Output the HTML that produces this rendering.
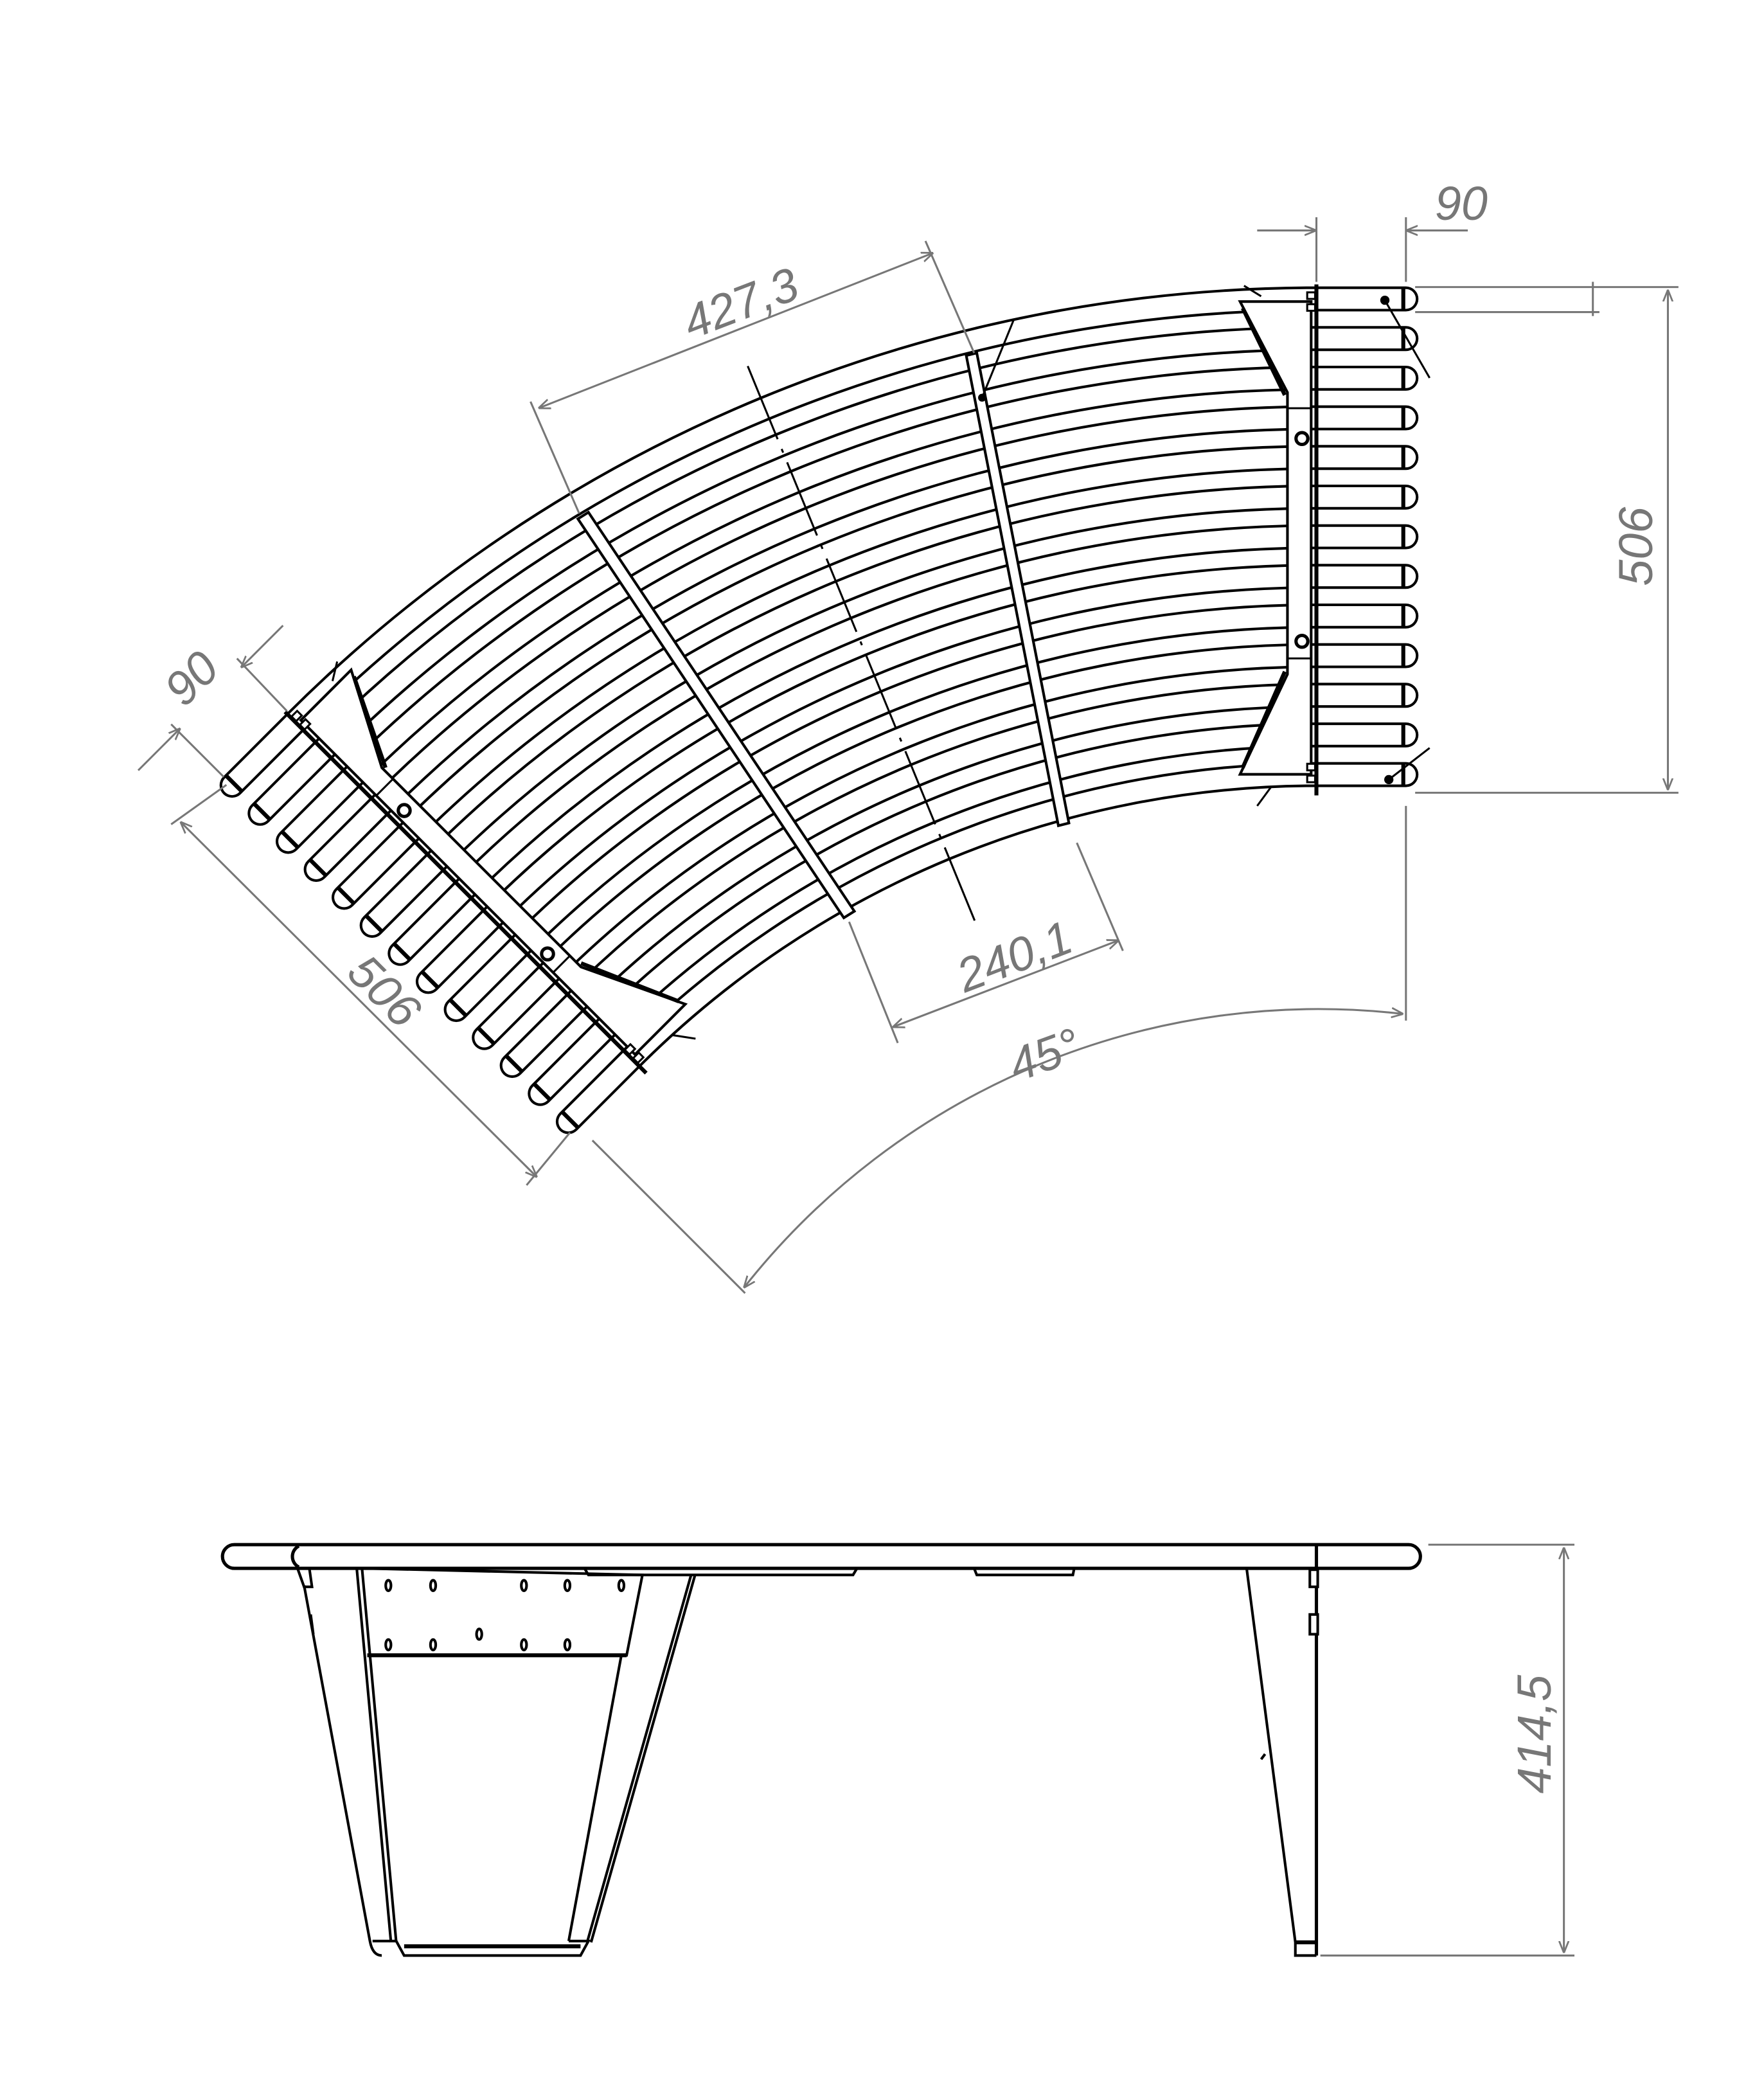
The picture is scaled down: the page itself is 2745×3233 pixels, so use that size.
<!DOCTYPE html>
<html><head><meta charset="utf-8"><style>
html,body{margin:0;padding:0;background:#fff;}
svg{display:block;}
.d{stroke:#777;stroke-width:1.5;fill:none}
.t{font-family:"Liberation Sans",sans-serif;font-style:italic;font-size:36px;fill:#777}
</style></head><body>
<svg width="2745" height="3233" viewBox="0 0 1340 1578" preserveAspectRatio="none" xmlns="http://www.w3.org/2000/svg" xmlns:xlink="http://www.w3.org/1999/xlink">
<defs>
<marker id="a" viewBox="0 0 10 10" refX="10" refY="5" markerWidth="9" markerHeight="9" markerUnits="userSpaceOnUse" orient="auto-start-reverse"><path d="M0,1 L10,5 L0,9" fill="none" stroke="#777" stroke-width="1.5"/></marker>
<g id="slatpaths">
<path d="M1068,227 L1000,227 A1097,1097 0 0 0 224.3,548.3 L176.3,596.3"/>
<path d="M1068,257.1 L1000,257.1 A1066.9,1066.9 0 0 0 245.6,569.6 L197.6,617.6"/>
<path d="M1068,287.2 L1000,287.2 A1036.8,1036.8 0 0 0 266.9,590.9 L218.9,638.9"/>
<path d="M1068,317.3 L1000,317.3 A1006.7,1006.7 0 0 0 288.2,612.2 L240.2,660.2"/>
<path d="M1068,347.4 L1000,347.4 A976.6,976.6 0 0 0 309.4,633.4 L261.4,681.4"/>
<path d="M1068,377.5 L1000,377.5 A946.5,946.5 0 0 0 330.7,654.7 L282.7,702.7"/>
<path d="M1068,407.6 L1000,407.6 A916.4,916.4 0 0 0 352,676 L304,724"/>
<path d="M1068,437.7 L1000,437.7 A886.3,886.3 0 0 0 373.3,697.3 L325.3,745.3"/>
<path d="M1068,467.8 L1000,467.8 A856.2,856.2 0 0 0 394.6,718.6 L346.6,766.6"/>
<path d="M1068,497.9 L1000,497.9 A826.1,826.1 0 0 0 415.9,739.9 L367.9,787.9"/>
<path d="M1068,528 L1000,528 A796,796 0 0 0 437.1,761.1 L389.1,809.1"/>
<path d="M1068,558.1 L1000,558.1 A765.9,765.9 0 0 0 458.4,782.4 L410.4,830.4"/>
<path d="M1068,588.2 L1000,588.2 A735.8,735.8 0 0 0 479.7,803.7 L431.7,851.7"/>
</g>
<g id="frame">
 <polygon points="942,229 996,229 996,588 942,588 978,512 978,298" fill="#fff" stroke="#000" stroke-width="2"/>
 <line x1="944" y1="234" x2="976" y2="300" stroke="#000" stroke-width="3"/>
 <line x1="944" y1="583" x2="976" y2="510" stroke="#000" stroke-width="3"/>
 <line x1="978" y1="310" x2="996" y2="310" stroke="#000" stroke-width="1.5"/>
 <line x1="978" y1="500" x2="996" y2="500" stroke="#000" stroke-width="1.5"/>
 <circle cx="989" cy="333" r="4.5" fill="#fff" stroke="#000" stroke-width="2.5"/>
 <circle cx="989" cy="487" r="4.5" fill="#fff" stroke="#000" stroke-width="2.5"/>
 <rect x="993" y="222" width="6" height="5" fill="#fff" stroke="#000" stroke-width="1.5"/>
 <rect x="993" y="231" width="6" height="5" fill="#fff" stroke="#000" stroke-width="1.5"/>
 <rect x="993" y="580" width="6" height="5" fill="#fff" stroke="#000" stroke-width="1.5"/>
 <rect x="993" y="589" width="6" height="5" fill="#fff" stroke="#000" stroke-width="1.5"/>
 <line x1="1000" y1="216" x2="1000" y2="604" stroke="#000" stroke-width="3"/>
 <line x1="945" y1="217" x2="958" y2="225" stroke="#000" stroke-width="1.5"/>
 <line x1="955" y1="612" x2="966" y2="597" stroke="#000" stroke-width="1.5"/>
 <g stroke="#000" stroke-width="3">
  <line x1="1066" y1="218" x2="1066" y2="236"/>
  <line x1="1066" y1="248.1" x2="1066" y2="266.1"/>
  <line x1="1066" y1="278.2" x2="1066" y2="296.2"/>
  <line x1="1066" y1="308.3" x2="1066" y2="326.3"/>
  <line x1="1066" y1="338.4" x2="1066" y2="356.4"/>
  <line x1="1066" y1="368.5" x2="1066" y2="386.5"/>
  <line x1="1066" y1="398.6" x2="1066" y2="416.6"/>
  <line x1="1066" y1="428.7" x2="1066" y2="446.7"/>
  <line x1="1066" y1="458.8" x2="1066" y2="476.8"/>
  <line x1="1066" y1="488.9" x2="1066" y2="506.9"/>
  <line x1="1066" y1="519" x2="1066" y2="537"/>
  <line x1="1066" y1="549.1" x2="1066" y2="567.1"/>
  <line x1="1066" y1="579.2" x2="1066" y2="597.2"/>
 </g>
</g>
</defs>
<rect width="1340" height="1578" fill="#fff"/>

<!-- slats -->
<use xlink:href="#slatpaths" href="#slatpaths" fill="none" stroke="#000" stroke-width="19" stroke-linecap="round"/>
<use xlink:href="#slatpaths" href="#slatpaths" fill="none" stroke="#fff" stroke-width="15" stroke-linecap="round"/>

<use xlink:href="#frame" href="#frame"/>
<use xlink:href="#frame" href="#frame" transform="matrix(-0.70711,0.70711,0.70711,0.70711,770.9,-319.3)"/>

<!-- leaders right -->
<circle cx="1052" cy="228" r="3.5" fill="#000"/>
<line x1="1052" y1="228" x2="1086" y2="287" stroke="#000" stroke-width="1.5"/>
<circle cx="1055" cy="592" r="3.5" fill="#000"/>
<line x1="1055" y1="592" x2="1086" y2="568" stroke="#000" stroke-width="1.5"/>

<!-- cross bars -->
<polygon points="439,394 447,389 649,692 641,697" fill="#fff" stroke="#000" stroke-width="2"/>
<polygon points="734,270 742,268 812,625 804,627" fill="#fff" stroke="#000" stroke-width="2"/>
<circle cx="746" cy="302" r="3" fill="#000"/>
<line x1="746" y1="302" x2="770" y2="243" stroke="#000" stroke-width="1.5"/>

<!-- center dash-dot -->
<line x1="568" y1="278" x2="742" y2="703" stroke="#000" stroke-width="1.5" stroke-dasharray="60,8,3,8"/>

<!-- dims top view -->
<g class="d">
 <line x1="403" y1="305" x2="440" y2="390"/>
 <line x1="703" y1="183" x2="740" y2="268"/>
 <line x1="409" y1="310" x2="709" y2="192" marker-start="url(#a)" marker-end="url(#a)"/>
 <line x1="645" y1="700" x2="682" y2="792"/>
 <line x1="818" y1="640" x2="853" y2="722"/>
 <line x1="678" y1="780" x2="850" y2="714" marker-start="url(#a)" marker-end="url(#a)"/>
 <line x1="1000" y1="165" x2="1000" y2="214"/>
 <line x1="1068" y1="165" x2="1068" y2="214"/>
 <line x1="955" y1="175" x2="1000" y2="175" marker-end="url(#a)"/>
 <line x1="1115" y1="175" x2="1068" y2="175" marker-end="url(#a)"/>
 <line x1="1075" y1="218" x2="1275" y2="218"/>
 <line x1="1075" y1="237" x2="1215" y2="237"/>
 <line x1="1210" y1="214" x2="1210" y2="240"/>
 <line x1="1075" y1="602" x2="1275" y2="602"/>
 <line x1="1267" y1="220" x2="1267" y2="600" marker-start="url(#a)" marker-end="url(#a)"/>
 <line x1="1068" y1="612" x2="1068" y2="775"/>
 <line x1="450" y1="866" x2="566" y2="982"/>
 <path d="M1066,770 A556,556 0 0 0 565,978" marker-start="url(#a)" marker-end="url(#a)"/>
 <line x1="172" y1="596" x2="130" y2="626"/>
 <line x1="433" y1="860" x2="400" y2="900"/>
 <line x1="137" y1="624" x2="408" y2="894" marker-start="url(#a)" marker-end="url(#a)"/>
 <line x1="218" y1="540" x2="180" y2="500"/>
 <line x1="170" y1="590" x2="130" y2="550"/>
 <line x1="105" y1="585" x2="137" y2="553" marker-end="url(#a)"/>
 <line x1="215" y1="475" x2="183" y2="507" marker-end="url(#a)"/>
</g>
<text class="t" transform="translate(525,258) rotate(-21)">427,3</text>
<text class="t" transform="translate(733,754) rotate(-21)">240,1</text>
<text class="t" transform="translate(1255,445) rotate(-90)">506</text>
<text class="t" x="1090" y="167">90</text>
<text class="t" transform="translate(140,538) rotate(-45)">90</text>
<text class="t" transform="translate(262,740) rotate(45)">506</text>
<text class="t" transform="translate(772,822) rotate(-20)">45°</text>

<!-- left tip bands -->
<g stroke="#000" stroke-width="3">
 <line x1="171.3" y1="588.5" x2="184.1" y2="601.3"/>
 <line x1="192.6" y1="609.8" x2="205.4" y2="622.6"/>
 <line x1="213.9" y1="631.1" x2="226.7" y2="643.9"/>
 <line x1="235.2" y1="652.4" x2="248" y2="665.2"/>
 <line x1="256.4" y1="673.6" x2="269.2" y2="686.4"/>
 <line x1="277.7" y1="694.9" x2="290.5" y2="707.7"/>
 <line x1="299" y1="716.2" x2="311.8" y2="729"/>
 <line x1="320.3" y1="737.5" x2="333.1" y2="750.3"/>
 <line x1="341.6" y1="758.8" x2="354.4" y2="771.6"/>
 <line x1="362.9" y1="780.1" x2="375.7" y2="792.9"/>
 <line x1="384.1" y1="801.3" x2="396.9" y2="814.1"/>
 <line x1="405.4" y1="822.6" x2="418.2" y2="835.4"/>
 <line x1="426.7" y1="843.9" x2="439.5" y2="856.7"/>
</g>

<!-- side view -->
<g fill="none" stroke="#000" stroke-width="2">
 <path d="M178,1173 L1070,1173 A9,9 0 0 1 1070,1191 L178,1191 A9,9 0 0 1 178,1173 Z" fill="#fff" stroke-width="2.5"/>
 <path d="M227,1174 A9,9 0 0 0 227,1190" stroke-width="2.5"/>
 <line x1="1000" y1="1173" x2="1000" y2="1485" stroke-width="2.5"/>
 <path d="M226,1191 L231,1205 L237,1205 L235,1191"/>
 <path d="M231,1204 L281,1474 Q283,1485 290,1485"/>
 <line x1="236" y1="1226" x2="238" y2="1241"/>
 <line x1="271" y1="1191" x2="297" y2="1475"/>
 <line x1="275" y1="1191" x2="301" y2="1475"/>
 <path d="M276,1191 L488,1196 L476,1257 L279,1257" stroke-width="2"/>
 <line x1="279" y1="1257" x2="476" y2="1257" stroke-width="3"/>
 <line x1="472" y1="1257" x2="432" y2="1474"/>
 <line x1="528" y1="1196" x2="449" y2="1475"/>
 <line x1="525" y1="1196" x2="446" y2="1475"/>
 <path d="M283,1474 L301,1474 L307,1485 L441,1485 L447,1474 L432,1474"/>
 <line x1="307" y1="1478" x2="441" y2="1478" stroke-width="3"/>
 <path d="M444,1191 L447,1196 L648,1196 L651,1191"/>
 <path d="M740,1191 L742,1196 L815,1196 L816,1191"/>
 <path d="M947,1191 L984,1475 L984,1485 L1000,1485"/>
 <line x1="984" y1="1475" x2="1000" y2="1475" stroke-width="3"/>
 <rect x="995" y="1192" width="6" height="13" fill="#fff"/>
 <rect x="995" y="1226" width="6" height="15" fill="#fff"/>
 <line x1="958" y1="1336" x2="961" y2="1332"/>
</g>
<g fill="#fff" stroke="#000" stroke-width="2">
 <ellipse cx="295" cy="1204" rx="2" ry="4"/><ellipse cx="329" cy="1204" rx="2" ry="4"/>
 <ellipse cx="398" cy="1204" rx="2" ry="4"/><ellipse cx="431" cy="1204" rx="2" ry="4"/>
 <ellipse cx="472" cy="1204" rx="2" ry="4"/>
 <ellipse cx="295" cy="1249" rx="2" ry="4"/><ellipse cx="329" cy="1249" rx="2" ry="4"/>
 <ellipse cx="398" cy="1249" rx="2" ry="4"/><ellipse cx="431" cy="1249" rx="2" ry="4"/>
 <ellipse cx="364" cy="1241" rx="2" ry="4"/>
</g>
<g class="d">
 <line x1="1085" y1="1173" x2="1196" y2="1173"/>
 <line x1="1003" y1="1485" x2="1196" y2="1485"/>
 <line x1="1188" y1="1175" x2="1188" y2="1483" marker-start="url(#a)" marker-end="url(#a)"/>
</g>
<text class="t" transform="translate(1178,1362) rotate(-90)">414,5</text>
</svg>
</body></html>
